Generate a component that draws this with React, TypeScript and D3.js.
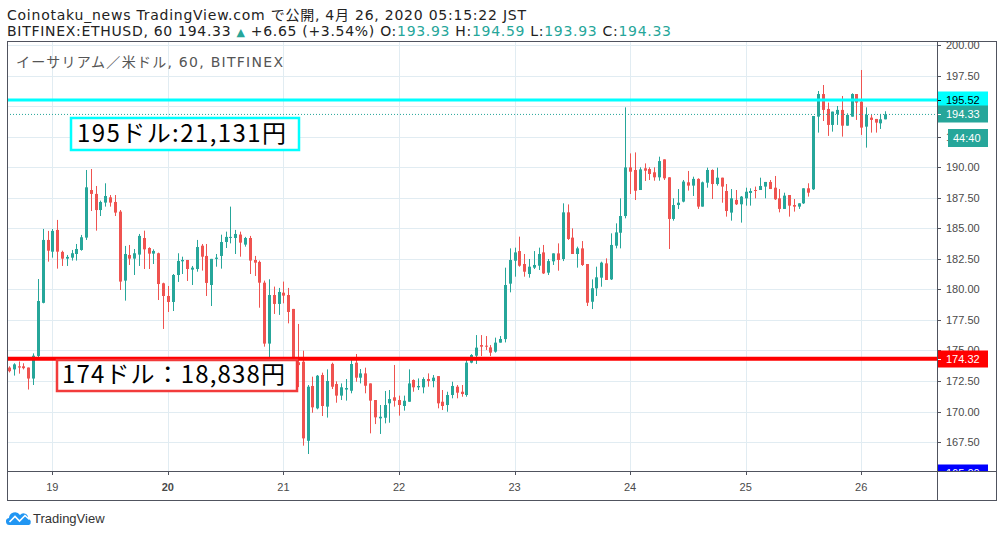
import * as d3 from "d3";

// hourly ETHUSD candles, Apr 18 15:00 -> Apr 26 05:00 (JST)
const OPEN = [
  173.6, 173.45, 173.7, 173.7, 173.6, 172.7, 174.55, 178.9, 184.05, 183.09,
  184.87, 183.07, 182.52, 182.6, 182.9, 183.23, 184.24, 188.14, 187.82, 186.5,
  187.11, 187.54, 187.16, 186.37, 180.72, 182.82, 182.52, 182.85, 184.21, 183.39,
  182.93, 182.96, 180.5, 179.46, 178.97, 181.18, 182.3, 182.41, 181.62, 181.67,
  183.58, 182.74, 180.36, 182.5, 182.74, 183.88, 184.24, 184.21, 184.49, 183.67,
  184.21, 182.41, 182.25, 180.55, 175.56, 179.54, 178.81, 179.73, 179.54, 178.4,
  174.03, 174.08, 167.6, 172.09, 170.26, 172.99, 170.4, 173.9, 172.25, 171.3,
  171.8, 171.7, 174.0, 172.77, 173.12, 172.3, 170.94, 169.44, 169.49, 170.67,
  171.16, 170.94, 170.45, 170.8, 172.58, 171.98, 171.98, 172.66, 172.5, 172.9,
  170.8, 170.53, 171.35, 172.03, 171.62, 171.35, 174.0, 174.57, 175.44, 175.39,
  175.25, 174.9, 175.64, 175.93, 180.47, 182.35, 183.14, 182.08, 181.26, 181.78,
  181.94, 183.03, 181.37, 182.3, 182.95, 182.49, 186.31, 184.24, 182.9, 183.36,
  182.08, 178.99, 180.09, 180.96, 182.13, 180.82, 183.58, 184.64, 186.01, 189.99,
  189.78, 188.14, 189.92, 189.86, 189.59, 189.18, 190.65, 189.18, 185.77, 186.91,
  187.19, 188.77, 188.5, 189.05, 186.78, 188.74, 189.78, 188.63, 189.15, 188.06,
  186.29, 187.33, 186.97, 187.46, 187.9, 188.14, 188.14, 188.42, 188.8, 188.33,
  187.46, 186.59, 187.73, 186.91, 186.78, 187.05, 188.28, 188.2, 194.15, 196.0,
  194.78, 193.47, 194.37, 194.7, 193.41, 194.15, 196.0, 195.38, 193.33, 194.07,
  193.96, 193.6, 193.93,
];
const HIGH = [
  173.7, 173.95, 174.1, 173.95, 173.6, 174.76, 180.85, 184.95, 184.79, 184.95,
  185.69, 183.17, 182.82, 183.23, 183.72, 184.46, 189.78, 189.86, 188.47, 187.27,
  188.69, 187.73, 187.73, 186.5, 183.56, 183.64, 183.31, 184.54, 184.81, 183.45,
  183.28, 183.01, 180.55, 180.28, 181.26, 182.96, 182.68, 182.41, 181.92, 184.05,
  183.72, 183.72, 182.5, 182.9, 184.48, 184.73, 186.78, 184.87, 184.73, 184.3,
  184.38, 182.74, 182.36, 180.72, 180.83, 180.23, 180.12, 180.64, 180.12, 178.4,
  177.17, 174.98, 172.17, 172.85, 172.99, 173.18, 173.45, 174.0, 172.47, 172.3,
  172.66, 174.3, 174.71, 173.48, 173.59, 172.3, 170.94, 170.53, 171.68, 171.76,
  173.81, 171.3, 171.3, 173.45, 172.63, 172.71, 172.8, 173.12, 172.99, 172.9,
  171.76, 171.62, 172.44, 172.17, 172.17, 174.43, 174.7, 176.26, 176.26, 176.18,
  175.44, 176.05, 176.18, 181.78, 183.36, 183.42, 184.32, 182.9, 182.49, 183.14,
  183.42, 183.64, 182.49, 182.95, 183.77, 187.05, 186.96, 185.0, 183.5, 183.96,
  182.08, 180.82, 181.86, 182.27, 182.54, 184.59, 185.41, 187.46, 194.91, 191.14,
  191.22, 190.0, 190.32, 190.0, 190.0, 190.87, 190.65, 189.18, 187.46, 188.22,
  188.96, 189.7, 189.23, 189.1, 188.83, 189.97, 189.83, 189.97, 189.15, 188.63,
  188.22, 188.14, 187.65, 188.33, 188.28, 188.42, 189.15, 188.8, 188.96, 189.29,
  188.22, 187.92, 187.73, 187.4, 187.05, 188.28, 188.69, 194.2, 196.25, 196.74,
  195.3, 194.56, 195.02, 195.84, 194.42, 196.06, 196.0, 197.97, 194.91, 194.29,
  193.96, 194.37, 194.59,
];
const LOW = [
  173.2, 172.94, 173.1, 173.45, 171.8, 172.17, 174.27, 178.86, 182.27, 182.6,
  181.7, 181.92, 181.92, 182.36, 182.36, 183.17, 184.05, 186.42, 184.81, 186.01,
  186.78, 186.78, 186.01, 179.95, 179.08, 182.0, 181.18, 181.92, 181.67, 181.67,
  182.08, 179.13, 176.76, 178.15, 178.23, 180.61, 181.26, 180.69, 180.36, 181.45,
  181.54, 179.46, 178.64, 181.86, 181.7, 183.39, 183.77, 182.9, 182.68, 183.5,
  181.26, 181.1, 178.5, 175.31, 173.2, 177.99, 177.91, 178.86, 177.22, 172.63,
  172.0, 167.2, 166.52, 169.9, 170.18, 169.63, 169.5, 171.84, 170.72, 170.94,
  170.89, 171.49, 172.44, 172.3, 171.49, 168.21, 168.97, 168.16, 169.03, 169.08,
  170.4, 169.66, 170.07, 170.8, 171.62, 171.76, 171.49, 172.03, 171.98, 170.26,
  170.12, 169.98, 171.08, 171.08, 171.21, 171.21, 173.95, 173.89, 174.54, 175.04,
  174.54, 174.82, 175.64, 175.66, 179.76, 181.04, 181.86, 181.04, 180.96, 181.67,
  181.59, 181.26, 181.18, 182.0, 181.53, 182.32, 184.05, 182.9, 181.78, 181.92,
  178.64, 178.39, 179.46, 180.22, 180.77, 180.77, 183.36, 183.36, 185.82, 187.81,
  187.32, 188.14, 188.88, 188.96, 188.9, 188.9, 188.96, 183.31, 185.63, 186.58,
  187.13, 188.09, 187.65, 186.59, 186.78, 188.33, 187.4, 188.5, 187.1, 185.96,
  185.63, 186.91, 185.47, 186.86, 186.86, 187.46, 188.14, 187.46, 188.22, 187.33,
  186.31, 186.59, 185.96, 186.37, 186.59, 187.0, 187.6, 188.14, 192.84, 193.79,
  192.57, 192.92, 193.47, 192.51, 193.41, 194.15, 193.88, 192.65, 191.61, 192.84,
  192.84, 193.14, 193.93,
];
const CLOSE = [
  173.3, 173.86, 173.6, 173.55, 172.7, 174.57, 179.05, 184.05, 183.17, 184.79,
  183.09, 182.52, 182.66, 182.96, 183.31, 184.27, 188.36, 187.82, 186.5, 187.16,
  187.65, 187.11, 186.29, 180.64, 182.9, 182.52, 182.96, 184.38, 183.28, 182.93,
  183.15, 180.44, 179.46, 178.97, 181.18, 182.33, 182.41, 181.67, 181.78, 183.47,
  182.68, 180.53, 182.5, 182.6, 183.88, 184.3, 184.3, 184.54, 183.83, 184.21,
  182.36, 182.19, 180.55, 175.56, 179.54, 178.81, 179.79, 179.49, 178.15, 174.03,
  173.8, 167.8, 172.03, 170.34, 172.93, 170.45, 172.5, 172.03, 171.3, 171.98,
  171.92, 173.89, 172.77, 173.12, 172.11, 170.89, 169.52, 169.57, 170.53, 171.02,
  170.88, 170.53, 170.88, 172.3, 171.98, 172.09, 172.66, 172.5, 172.77, 170.67,
  170.45, 171.35, 172.09, 171.54, 171.43, 174.0, 174.63, 175.23, 175.31, 175.31,
  174.82, 175.64, 175.94, 180.36, 182.41, 183.03, 181.94, 181.45, 181.86, 182.0,
  182.9, 181.31, 182.32, 182.95, 182.41, 186.31, 184.13, 182.9, 183.36, 182.0,
  178.91, 180.09, 180.99, 182.19, 180.77, 183.64, 184.67, 186.01, 189.99, 189.64,
  188.08, 189.83, 189.72, 189.45, 189.18, 190.51, 189.1, 185.77, 186.91, 187.1,
  188.83, 188.5, 189.05, 186.78, 188.77, 189.78, 188.63, 189.15, 188.42, 186.42,
  187.46, 186.97, 187.6, 188.0, 188.06, 188.09, 188.47, 188.8, 188.22, 187.38,
  186.59, 187.68, 186.86, 186.78, 187.05, 188.28, 187.92, 194.2, 196.0, 194.7,
  193.47, 194.56, 194.7, 193.41, 194.29, 196.0, 195.3, 193.25, 194.29, 193.88,
  193.66, 193.93, 194.33,
];

const START = new Date(2020, 3, 18, 15);
const DAY_LABELS = ["19", "20", "21", "22", "23", "24", "25", "26"];
// 195.00 sits fully behind the 195.52 marker, so it is not listed
const Y_TICKS = [165, 167.5, 170, 172.5, 175, 177.5, 180, 182.5, 185, 187.5, 190, 192.5, 197.5, 200];
const GRID_LEVELS = [167.5, 170, 172.5, 175, 177.5, 180, 182.5, 185, 187.5, 190, 192.5, 195, 197.5, 200];
const RESIST = 195.52;
const SUPPORT = 174.32;
const LAST = 194.33;
const LOW_MARK = 165.0;

const UP = "#26a69a";
const DOWN = "#ef5350";
const GRID = "#e1ecf2";
const FRAME = "#50535e";
const FONT = "'Liberation Sans', 'Noto Sans CJK JP', sans-serif";
const HEAD = "'DejaVu Sans', 'Noto Sans CJK JP', sans-serif";
const JP = "'Noto Sans CJK JP', sans-serif";

export default function App() {
  const W = 1002;
  const H = 537;
  const left = 7, right = 937, top = 41, bottom = 471, edge = 996, foot = 500;

  const times = OPEN.map((_, i) => d3.timeHour.offset(START, i));
  const x = d3
    .scaleTime()
    .domain([START, times[times.length - 1]])
    .range([9, 885.3]);
  const y = d3.scaleLinear().domain([165, 200]).range([472.55, 45.2]);

  const days = DAY_LABELS.map((d) => new Date(2020, 3, +d));

  const priceBox = (v: number, bg: string, fg: string, label: string) => {
    const cy = Math.round(y(v));
    return (
      <g key={label}>
        <rect x={right} y={cy - 8.5} width={51} height={17} fill={bg} />
        <line x1={right} x2={right + 4} y1={cy + 0.5} y2={cy + 0.5} stroke={fg} />
        <text x={946} y={cy + 4} fontSize={11} fill={fg} fontFamily={FONT}>
          {label}
        </text>
      </g>
    );
  };

  return (
    <svg
      width={W}
      height={H}
      style={{ position: "absolute", left: 0, top: 0, background: "#fff" }}
    >
      <defs>
        <clipPath id="plot">
          <rect x={left} y={top} width={right - left} height={bottom - top} />
        </clipPath>
        <clipPath id="axis">
          <rect x={right} y={top} width={edge - right} height={bottom - top} />
        </clipPath>
      </defs>

      {/* header */}
      <text x={7} y={20} fontSize={14} fill="#222" fontFamily={HEAD} textLength={519} lengthAdjust="spacing">
        Coinotaku_news TradingView.com で公開, 4月 26, 2020 05:15:22 JST
      </text>
      <text x={7} y={36} fontSize={14} fill="#222" fontFamily={HEAD} textLength={664} lengthAdjust="spacing">
        {"BITFINEX:ETHUSD, 60 194.33 "}
        <tspan fill={UP} fontSize={11}>▲</tspan>
        <tspan>{" +6.65 (+3.54%) O:"}</tspan>
        <tspan fill={UP}>193.93</tspan>
        <tspan>{" H:"}</tspan>
        <tspan fill={UP}>194.59</tspan>
        <tspan>{" L:"}</tspan>
        <tspan fill={UP}>193.93</tspan>
        <tspan>{" C:"}</tspan>
        <tspan fill={UP}>194.33</tspan>
      </text>

      {/* grid */}
      <g clipPath="url(#plot)">
        {GRID_LEVELS.map((t) => (
          <line key={t} x1={left} x2={right} y1={Math.round(y(t)) + 0.5} y2={Math.round(y(t)) + 0.5} stroke={GRID} />
        ))}
        {days.map((d, i) => (
          <line key={i} x1={Math.round(x(d)) + 0.5} x2={Math.round(x(d)) + 0.5} y1={top} y2={bottom} stroke={GRID} />
        ))}
      </g>

      <text x={16} y={67} fontSize={14} fill="#555" fontFamily={HEAD} textLength={267} lengthAdjust="spacing">
        イーサリアム／米ドル, 60, BITFINEX
      </text>

      {/* candles */}
      <g clipPath="url(#plot)">
        {times.map((t, i) => {
          const cx = Math.round(x(t));
          const o = OPEN[i], c = CLOSE[i];
          const col = c >= o ? UP : DOWN;
          const yTop = y(Math.max(o, c));
          const yBot = y(Math.min(o, c));
          return (
            <g key={i}>
              <line x1={cx + 0.5} x2={cx + 0.5} y1={y(HIGH[i])} y2={y(LOW[i])} stroke={col} />
              <rect x={cx - 1} y={yTop} width={3} height={Math.max(1, yBot - yTop)} fill={col} />
            </g>
          );
        })}

        {/* horizontal levels */}
        <line x1={left} x2={right} y1={y(LAST)} y2={y(LAST)} stroke={UP} strokeDasharray="1 2" />
        <line x1={left} x2={right} y1={y(RESIST)} y2={y(RESIST)} stroke="#00ffff" strokeWidth={3} />
        <line x1={left} x2={right} y1={y(SUPPORT)} y2={y(SUPPORT)} stroke="#ff0000" strokeWidth={4} />
      </g>

      {/* annotations */}
      <rect x={71} y={118} width={228} height={32} fill="#fff" stroke="#00ffff" strokeWidth={2.5} />
      <text x={77} y={142} fontSize={24} fill="#000" fontFamily={JP} textLength={209} lengthAdjust="spacing">
        195ドル:21,131円
      </text>
      <rect x={57} y={360} width={240} height={31} fill="#fff" stroke="#f23b3b" strokeWidth={2.5} />
      <text x={62} y={383} fontSize={24} fill="#000" fontFamily={JP} textLength={223} lengthAdjust="spacing">
        174ドル：18,838円
      </text>

      {/* right price axis */}
      <g clipPath="url(#axis)">
        {Y_TICKS.map((t) => (
          <g key={t}>
            <line x1={right} x2={right + 4} y1={Math.round(y(t)) + 0.5} y2={Math.round(y(t)) + 0.5} stroke={FRAME} />
            <text x={946} y={y(t) + 4} fontSize={11} fill="#4a4a4a" fontFamily={FONT}>
              {t.toFixed(2)}
            </text>
          </g>
        ))}
        {priceBox(RESIST, "#00ffff", "#000", RESIST.toFixed(2))}
        {priceBox(LAST, UP, "#fff", LAST.toFixed(2))}
        <rect x={948} y={129} width={40} height={18} fill={UP} />
        <text x={953} y={142} fontSize={11} fill="#fff" fontFamily={FONT}>
          44:40
        </text>
        {priceBox(SUPPORT, "#ff0000", "#fff", SUPPORT.toFixed(2))}
        {priceBox(LOW_MARK, "#0000ff", "#fff", LOW_MARK.toFixed(2))}
      </g>

      {/* frame */}
      <rect x={left + 0.5} y={top + 0.5} width={edge - left} height={foot - top} fill="none" stroke={FRAME} />
      <line x1={right + 0.5} x2={right + 0.5} y1={top} y2={foot} stroke={FRAME} />
      <line x1={left} x2={edge} y1={bottom + 0.5} y2={bottom + 0.5} stroke={FRAME} />

      {/* time axis */}
      {days.map((d, i) => (
        <g key={i}>
          <line x1={Math.round(x(d)) + 0.5} x2={Math.round(x(d)) + 0.5} y1={bottom} y2={bottom + 4} stroke={FRAME} />
          <text
            x={x(d)}
            y={491}
            fontSize={11}
            textAnchor="middle"
            fill="#4a4a4a"
            fontWeight={DAY_LABELS[i] === "20" ? "bold" : "normal"}
            fontFamily={FONT}
          >
            {DAY_LABELS[i]}
          </text>
        </g>
      ))}

      {/* logo */}
      <path
        d="M10 525 a3.5 3.5 0 0 1 -1 -7 a6 6 0 0 1 11 -3 a4.5 4.5 0 0 1 8 3.5 a3.5 3.5 0 0 1 1 6.5 z"
        fill="#2196f3"
      />
      <path d="M9.5 522 L15 516.5 L19.5 521 L25 515.5 L29.5 519.5" fill="none" stroke="#fff" strokeWidth={1.6} />
      <text x={33} y={523} fontSize={13} fill="#333" fontFamily={FONT}>
        TradingView
      </text>
    </svg>
  );
}
